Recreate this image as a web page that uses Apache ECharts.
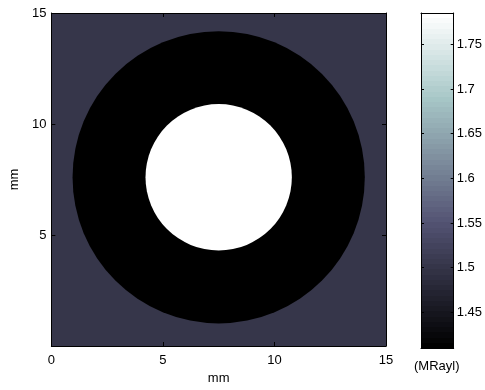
<!DOCTYPE html>
<html>
<head>
<meta charset="utf-8">
<script src="https://cdn.jsdelivr.net/npm/echarts@6/dist/echarts.min.js"></script>
<style>
html,body{margin:0;padding:0;background:#fff;}
#c{width:485px;height:390px;}
</style>
</head>
<body>
<div id="c"></div>
<script>
// ---- data ----
var xTicks = [0, 5, 10, 15];
var yTicks = [5, 10, 15];
var extentX = [0, 15];
var extentY = [0, 15];
var centerX = 7.5;
var centerY = 7.6;
var regionNames = ['background', 'ring', 'core'];
var regionShapes = ['rect', 'circle', 'circle'];
var regionRadius = [0, 6.55, 3.28];
var regionValues = [1.5, 1.41, 1.785];
var cbRange = [1.41, 1.785];
var cbTicks = [1.45, 1.5, 1.55, 1.6, 1.65, 1.7, 1.75];
var cbUnit = '(MRayl)';

// ---- bone colormap (style) ----
function bone(t) {
  t = Math.max(0, Math.min(1, t));
  var hr = Math.min(1, t / 0.375);
  var hg = Math.max(0, Math.min(1, (t - 0.375) / 0.375));
  var hb = Math.max(0, Math.min(1, (t - 0.75) / 0.25));
  var r = (7 * t + hb) / 8, g = (7 * t + hg) / 8, b = (7 * t + hr) / 8;
  return 'rgb(' + Math.round(r * 255) + ',' + Math.round(g * 255) + ',' + Math.round(b * 255) + ')';
}
var boneStops = [];
for (var k = 0; k <= 8; k++) boneStops.push(bone(k / 8));
var bandStops = [];
for (var i = 0; i < 64; i++) {
  var c = bone(i / 63);
  bandStops.push({offset: i / 64, color: c});
  bandStops.push({offset: (i + 1) / 64, color: c});
}

var FONT = 'Liberation Sans, Arial, sans-serif';
var txt = {color: '#000', fontSize: 13, fontFamily: FONT};

var chart = echarts.init(document.getElementById('c'), null, {renderer: 'canvas'});

var mainData = regionValues.map(function (v, i) {
  return [centerX, centerY, regionRadius[i], v];
});

var AZ = 10;
var line = {show: true, onZero: false, lineStyle: {color: '#000', width: 1}};
var tick4 = {show: true, inside: true, length: 4, lineStyle: {color: '#000'}};
chart.setOption({
  animation: false,
  backgroundColor: '#fff',
  grid: [
    {left: 50, top: 13, width: 336, height: 335, show: false},
    {left: 421, top: 13, width: 33, height: 335, show: false}
  ],
  xAxis: [
    {gridIndex: 0, type: 'value', min: extentX[0], max: extentX[1], interval: 5, position: 'bottom', z: AZ,
      axisLine: line, axisTick: tick4,
      axisLabel: Object.assign({margin: 8}, txt),
      splitLine: {show: false},
      name: 'mm', nameLocation: 'middle', nameGap: 26, nameTextStyle: txt},
    {gridIndex: 0, type: 'value', min: extentX[0], max: extentX[1], interval: 5, position: 'top', z: AZ,
      axisLine: line, axisTick: tick4,
      axisLabel: {show: false}, splitLine: {show: false}},
    {gridIndex: 1, type: 'value', min: 0, max: 1, position: 'bottom', z: AZ,
      axisLine: line, axisTick: {show: false}, axisLabel: {show: false}, splitLine: {show: false}},
    {gridIndex: 1, type: 'value', min: 0, max: 1, position: 'top', z: AZ,
      axisLine: line, axisTick: {show: false}, axisLabel: {show: false}, splitLine: {show: false}}
  ],
  yAxis: [
    {gridIndex: 0, type: 'value', min: extentY[0], max: extentY[1], interval: 5, position: 'left', z: AZ,
      axisLine: line, axisTick: tick4,
      axisLabel: Object.assign({margin: 5, formatter: function (v) { return yTicks.indexOf(v) >= 0 ? String(v) : ''; }}, txt),
      splitLine: {show: false},
      name: 'mm', nameLocation: 'middle', nameGap: 30, nameRotate: 90, nameTextStyle: txt},
    {gridIndex: 0, type: 'value', min: extentY[0], max: extentY[1], interval: 5, position: 'right', z: AZ,
      axisLine: line, axisTick: tick4,
      axisLabel: {show: false}, splitLine: {show: false}},
    {gridIndex: 1, type: 'value', min: cbRange[0], max: cbRange[1], position: 'right', z: AZ,
      axisLine: line,
      axisTick: {show: true, inside: true, length: 3, customValues: cbTicks, lineStyle: {color: '#000'}},
      axisLabel: Object.assign({margin: 3, customValues: cbTicks, formatter: function (v) { return String(v); }}, txt),
      splitLine: {show: false}},
    {gridIndex: 1, type: 'value', min: cbRange[0], max: cbRange[1], position: 'left', z: AZ,
      axisLine: line,
      axisTick: {show: true, inside: true, length: 3, customValues: cbTicks, lineStyle: {color: '#000'}},
      axisLabel: {show: false}, splitLine: {show: false}}
  ],
  visualMap: {
    type: 'continuous', show: false, seriesIndex: 0, dimension: 3,
    min: cbRange[0], max: cbRange[1],
    inRange: {color: boneStops}
  },
  graphic: [
    {type: 'text', left: 414, top: 360, style: {text: cbUnit, fill: '#000', font: '13px ' + FONT}}
  ],
  series: [
    {
      type: 'custom', xAxisIndex: 0, yAxisIndex: 0, clip: true,
      encode: {x: 0, y: 1},
      data: mainData,
      renderItem: function (params, api) {
        var idx = params.dataIndex;
        var color = api.visual('color');
        if (regionShapes[idx] === 'rect') {
          var p0 = api.coord([extentX[0], extentY[1]]);
          var p1 = api.coord([extentX[1], extentY[0]]);
          return {type: 'rect', shape: {x: p0[0], y: p0[1], width: p1[0] - p0[0], height: p1[1] - p0[1]}, style: {fill: color}};
        }
        var c = api.coord([api.value(0), api.value(1)]);
        var r = api.size([api.value(2), 0])[0];
        return {type: 'circle', shape: {cx: c[0], cy: c[1], r: r}, style: {fill: color}};
      },
      z: 1
    },
    {
      type: 'custom', xAxisIndex: 2, yAxisIndex: 2, clip: true,
      data: [[0, cbRange[0], 1, cbRange[1]]],
      encode: {x: 0, y: 1},
      renderItem: function (params, api) {
        var p0 = api.coord([api.value(0), api.value(3)]);
        var p1 = api.coord([api.value(2), api.value(1)]);
        return {type: 'rect', shape: {x: p0[0], y: p0[1], width: p1[0] - p0[0], height: p1[1] - p0[1]},
          style: {fill: new echarts.graphic.LinearGradient(0, 1, 0, 0, bandStops)}};
      },
      z: 1
    }
  ]
});
</script>
</body>
</html>
